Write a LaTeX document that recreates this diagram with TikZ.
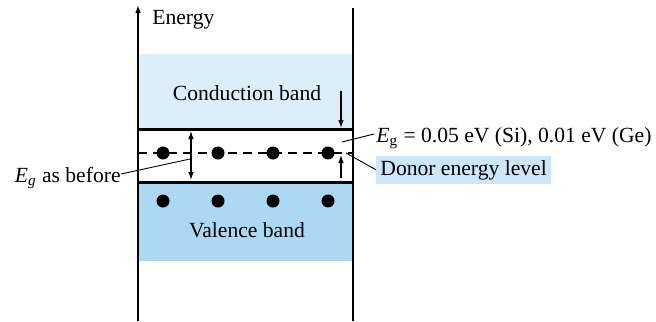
\documentclass[tikz,border=0pt]{standalone}
\usepackage{fontspec}
\setmainfont{Liberation Serif}
\usetikzlibrary{arrows.meta,positioning}
\definecolor{CondBlue}{RGB}{221,238,251}
\definecolor{ValBlue}{RGB}{171,216,243}
\definecolor{TagBlue}{RGB}{205,230,249}
\newcommand{\Egap}{\textit{E}\textsubscript{g}}

\begin{document}
\begin{tikzpicture}[x=0.5pt,y=-0.5pt,>={Latex[length=4pt,width=2.8pt]},
 lbl/.style={inner sep=0pt,font=\fontsize{10.8}{13}\selectfont},
 dot/.style={circle,fill=black,inner sep=0pt,minimum size=6.5pt},
 bandedge/.style={line width=1.5pt},
 leader/.style={line width=0.45pt}]
\useasboundingbox (0,0) rectangle (656,321);
% bands
\fill[CondBlue] (138,54) rectangle (353,129);
\fill[ValBlue] (138,182) rectangle (353,261);
\draw[dash pattern=on 4.5pt off 3pt,line width=0.6pt] (138,153) -- (353,153);
\draw[bandedge] (138,129) -- (353,129);
\draw[bandedge] (138,182) -- (353,182);
% walls
\coordinate (lbot) at (138,321);
\coordinate (ltop) at (138,5);
\coordinate (rbot) at (353,321);
\coordinate (rtop) at (353,8);
\draw[->,line width=0.7pt] (lbot) -- (ltop);
\draw[line width=0.7pt] (rbot) -- (rtop);
% electrons
\foreach \x/\n in {163/1,218/2,273/3,328/4}{
  \node[dot] (d\n) at (\x,153) {};
  \node[dot] (v\n) at (\x,201) {};
}
% labels
\node[lbl,anchor=base west] (energy) at (152,25) {Energy};
\node[lbl,anchor=base] (cond) at (247,100) {Conduction band};
\node[lbl,anchor=base] (val) at (247,237) {Valence band};
\node[lbl,anchor=base east] (before) at (121,182) {\textit{E}\textsubscript{\textit{g}} as before};
\node[lbl,anchor=base west] (gap) at (376,142) {\Egap{} = 0.05 eV (Si), 0.01 eV (Ge)};
\node[lbl,anchor=base west,fill=TagBlue,inner sep=2pt] (donor) at (376,175) {Donor energy level};
% gap arrows
\coordinate (ga) at (191,131);
\coordinate (gb) at (191,180);
\draw[<->,line width=0.6pt] (ga) -- (gb);
\coordinate (dn1) at (341,91);
\coordinate (dn2) at (341,128);
\coordinate (up1) at (341,178);
\coordinate (up2) at (341,155);
\draw[->,line width=0.6pt] (dn1) -- (dn2);
\draw[->,line width=0.6pt] (up1) -- (up2);
% leaders
\coordinate (lb) at (190,159);
\coordinate (lg) at (342,142);
\coordinate (ld) at (346,153);
\draw[leader] ([yshift=4pt]before.base east) -- (lb);
\draw[leader] ([xshift=-1pt,yshift=4pt]gap.base west) -- (lg);
\draw[leader] (donor.west) -- (ld);
\end{tikzpicture}
\end{document}
